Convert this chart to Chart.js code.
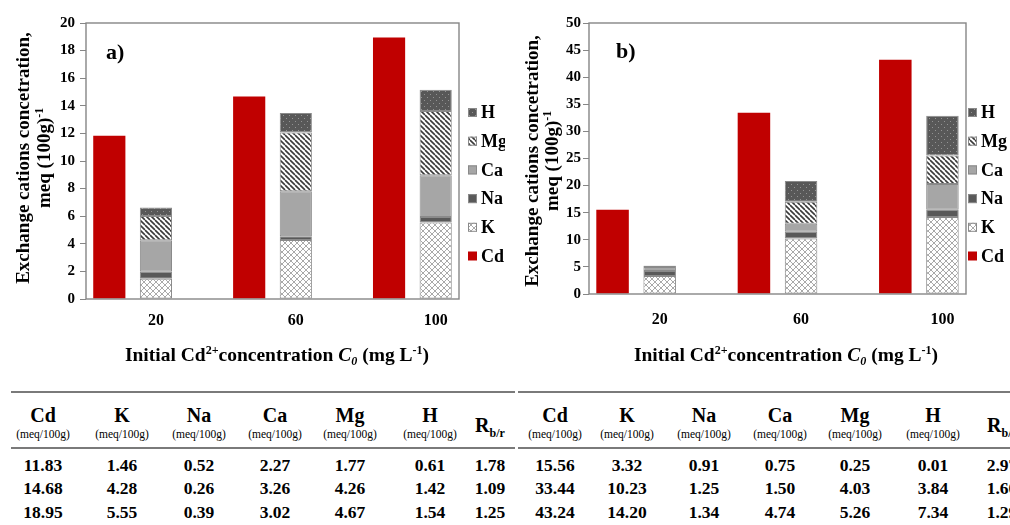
<!DOCTYPE html>
<html>
<head>
<meta charset="utf-8">
<script src="https://cdn.jsdelivr.net/npm/chart.js@4.4.1/dist/chart.umd.min.js"></script>
<style>
body { margin: 0; background: #fff; width: 1010px; height: 525px; overflow: hidden; position: relative; font-family: "Liberation Serif", "Times New Roman", serif; }
canvas { position: absolute; top: 0; }
#chartA { left: 0; }
#chartB { left: 505px; }
.line { position: absolute; height: 2px; background: #7a7a7a; }
.cell { position: absolute; text-align: center; color: #000; white-space: nowrap; }
</style>
</head>
<body>
<canvas id="chartA" width="505" height="372"></canvas>
<canvas id="chartB" width="505" height="372"></canvas>
<div id="tables"></div>
<script>
const categories = ['20', '60', '100'];

// panel a)
const cdA = [11.83, 14.68, 18.95];
const kA = [1.46, 4.28, 5.55];
const naA = [0.52, 0.26, 0.39];
const caA = [2.27, 3.26, 3.02];
const mgA = [1.77, 4.26, 4.67];
const hA = [0.61, 1.42, 1.54];
const rbrA = [1.78, 1.09, 1.25];

// panel b)
const cdB = [15.56, 33.44, 43.24];
const kB = [3.32, 10.23, 14.20];
const naB = [0.91, 1.25, 1.34];
const caB = [0.75, 1.50, 4.74];
const mgB = [0.25, 4.03, 5.26];
const hB = [0.01, 3.84, 7.34];
const rbrB = [2.97, 1.60, 1.29];

const yTicksA = { max: 20, step: 2 };
const yTicksB = { max: 50, step: 5 };

Chart.defaults.font.family = '"Liberation Serif", serif';

// 8 slots: Cd bar, stacked bar, gap, Cd bar, stacked bar, gap, Cd bar, stacked bar
const slotLabels = [];
for (let i = 0; i < categories.length; i++) {
	slotLabels.push('', categories[i]);
	if (i < categories.length - 1) slotLabels.push('');
}
function cdSlots(arr) {
	const out = new Array(slotLabels.length).fill(null);
	arr.forEach((v, i) => out[3 * i] = v);
	return out;
}
function stackSlots(arr) {
	const out = new Array(slotLabels.length).fill(null);
	arr.forEach((v, i) => out[3 * i + 1] = v);
	return out;
}

function pattern(size, draw) {
	const c = document.createElement('canvas');
	c.width = c.height = size;
	const g = c.getContext('2d');
	draw(g, size);
	return g.createPattern(c, 'repeat');
}
const kFill = pattern(6, (g, s) => {
	g.fillStyle = '#fff'; g.fillRect(0, 0, s, s);
	g.strokeStyle = '#a9a9a9'; g.lineWidth = 1;
	g.beginPath(); g.moveTo(0, 0); g.lineTo(s, s); g.moveTo(s, 0); g.lineTo(0, s); g.stroke();
});
const mgFill = pattern(5, (g, s) => {
	g.fillStyle = '#fff'; g.fillRect(0, 0, s, s);
	g.strokeStyle = '#3a3a3a'; g.lineWidth = 1.6;
	g.beginPath();
	for (const k of [-1, 0, 1]) { g.moveTo(k * s, 0); g.lineTo(k * s + s, s); }
	g.stroke();
});
const hFill = pattern(6, (g, s) => {
	g.fillStyle = '#585858'; g.fillRect(0, 0, s, s);
	g.fillStyle = '#939393';
	g.fillRect(1, 1, 1, 1); g.fillRect(4, 4, 1, 1);
});
const edge = '#8a8a8a';

function drawRich(ctx, parts, cx, cy, size) {
	const fontOf = p => (p.i ? 'italic ' : '') + 'bold ' + (p.s ? size * 0.62 : size) + 'px "Liberation Serif"';
	let w = 0;
	parts.forEach(p => { ctx.font = fontOf(p); p.w = ctx.measureText(p.t).width; w += p.w; });
	let x = cx - w / 2;
	const base = cy + size * 0.33;
	ctx.textAlign = 'left';
	ctx.textBaseline = 'alphabetic';
	ctx.fillStyle = '#000';
	parts.forEach(p => {
		ctx.font = fontOf(p);
		const dy = p.s === 'sup' ? -size * 0.38 : p.s === 'sub' ? size * 0.2 : 0;
		ctx.fillText(p.t, x, base + dy);
		x += p.w;
	});
}

const decor = {
	id: 'decor',
	afterDraw(chart, args, o) {
		const ctx = chart.ctx;
		const ca = chart.chartArea;
		ctx.save();
		ctx.strokeStyle = '#868686';
		ctx.lineWidth = 1.4;
		ctx.strokeRect(ca.left, ca.top, ca.right - ca.left, ca.bottom - ca.top);

		ctx.fillStyle = '#000';
		ctx.font = 'bold 22px "Liberation Serif"';
		ctx.textAlign = 'left';
		ctx.textBaseline = 'middle';
		ctx.fillText(o.tag, o.tagX, o.tagY);

		ctx.save();
		ctx.translate(o.yT1, o.yTy);
		ctx.rotate(-Math.PI / 2);
		drawRich(ctx, [{ t: 'Exchange cations concetration,' }], 0, 0, 19);
		ctx.restore();
		ctx.save();
		ctx.translate(o.yT2, o.yTy);
		ctx.rotate(-Math.PI / 2);
		drawRich(ctx, [{ t: 'meq (100g)' }, { t: '-1', s: 'sup' }], 0, 0, 19);
		ctx.restore();

		drawRich(ctx, [
			{ t: 'Initial Cd' }, { t: '2+', s: 'sup' }, { t: 'concentration ' },
			{ t: 'C', i: 1 }, { t: '0', i: 1, s: 'sub' }, { t: ' (mg L' }, { t: '-1', s: 'sup' }, { t: ')' }
		], o.xTx, o.xTy, 19.5);

		// legend, top item is the last dataset
		const ds = chart.data.datasets.slice().reverse();
		ds.forEach((d, i) => {
			const y = o.legY + i * o.legDy;
			ctx.fillStyle = d.backgroundColor;
			ctx.fillRect(o.legX, y - 4.5, 9, 9);
			if (d.borderWidth) {
				ctx.strokeStyle = edge; ctx.lineWidth = 1;
				ctx.strokeRect(o.legX + 0.5, y - 4, 8, 8);
			}
			ctx.fillStyle = '#000';
			ctx.font = 'bold 18px "Liberation Serif"';
			ctx.textAlign = 'left';
			ctx.textBaseline = 'middle';
			ctx.fillText(d.label, o.legX + 13, y + 1);
		});
		ctx.restore();
	}
};

function makeChart(id, set, ticks, geo) {
	const stackDs = (label, arr, fill) => ({
		label: label, data: stackSlots(arr), backgroundColor: fill, borderColor: edge, borderWidth: 1
	});
	return new Chart(document.getElementById(id), {
		type: 'bar',
		data: {
			labels: slotLabels,
			datasets: [
				{ label: 'Cd', data: cdSlots(set.cd), backgroundColor: '#c00000', borderWidth: 0 },
				stackDs('K', set.k, kFill),
				stackDs('Na', set.na, '#595959'),
				stackDs('Ca', set.ca, '#a6a6a6'),
				stackDs('Mg', set.mg, mgFill),
				stackDs('H', set.h, hFill)
			]
		},
		options: {
			responsive: false,
			animation: false,
			layout: { padding: { left: 0, top: 23, right: geo.right, bottom: 0 } },
			datasets: { bar: { barPercentage: 0.69, categoryPercentage: 1, borderSkipped: false } },
			scales: {
				x: {
					stacked: true,
					grid: { display: false, drawTicks: false },
					border: { display: false },
					ticks: { padding: geo.xPad, autoSkip: false, maxRotation: 0, color: '#000', font: { size: 16, weight: 'bold' } },
					afterFit: a => { a.height = geo.xH; }
				},
				y: {
					stacked: true,
					min: 0,
					max: ticks.max,
					ticks: { stepSize: ticks.step, padding: geo.yPad, color: '#000', font: { size: 15, weight: 'bold' } },
					grid: { drawOnChartArea: false, tickLength: 6, color: '#868686' },
					border: { display: false },
					afterFit: a => { a.width = geo.yW; }
				}
			},
			plugins: {
				legend: { display: false },
				tooltip: { enabled: false },
				decor: geo.decor
			}
		},
		plugins: [decor]
	});
}

makeChart('chartA', { cd: cdA, k: kA, na: naA, ca: caA, mg: mgA, h: hA }, yTicksA, {
	right: 46, xH: 73, xPad: 12, yW: 86, yPad: 5,
	decor: { tag: 'a)', tagX: 106, tagY: 53, yT1: 23, yT2: 44, yTy: 158, xTx: 277, xTy: 355, legX: 468, legY: 112.5, legDy: 28.7 }
});
makeChart('chartB', { cd: cdB, k: kB, na: naB, ca: caB, mg: mgB, h: hB }, yTicksB, {
	right: 44, xH: 78, xPad: 16, yW: 84, yPad: 2,
	decor: { tag: 'b)', tagX: 111, tagY: 52, yT1: 26.5, yT2: 47, yTy: 161, xTx: 281, xTy: 355, legX: 463, legY: 112.5, legDy: 28.7 }
});

// tables under the charts
const colNames = ['Cd', 'K', 'Na', 'Ca', 'Mg', 'H'];
const rowY = [465, 488, 512];
const holder = document.getElementById('tables');
function cell(html, cx, cy, size, weight) {
	const d = document.createElement('div');
	d.className = 'cell';
	d.style.left = (cx - 50) + 'px';
	d.style.width = '100px';
	d.style.top = (cy - size) + 'px';
	d.style.height = (2 * size) + 'px';
	d.style.lineHeight = (2 * size) + 'px';
	d.style.fontSize = size + 'px';
	d.style.fontWeight = weight;
	d.innerHTML = html;
	holder.appendChild(d);
}
function line(x0, x1, y) {
	const d = document.createElement('div');
	d.className = 'line';
	d.style.left = x0 + 'px';
	d.style.width = (x1 - x0) + 'px';
	d.style.top = y + 'px';
	holder.appendChild(d);
}
function buildTable(x0, x1, centers, cols) {
	line(x0, x1, 391);
	line(x0, x1, 447);
	colNames.forEach((n, j) => {
		cell(n, centers[j], 415, 20, 'bold');
		cell('(meq/100g)', centers[j], 434, 11.5, 'normal');
	});
	cell('R<sub style="font-size:12px">b/r</sub>', centers[6], 425, 20, 'bold');
	cols.forEach((col, j) => {
		col.forEach((v, r) => cell(v.toFixed(2), centers[j], rowY[r], 17.5, 'bold'));
	});
}
buildTable(11, 515, [43, 122, 199, 275, 350, 430, 490], [cdA, kA, naA, caA, mgA, hA, rbrA]);
buildTable(518, 1010, [555, 627, 704, 780, 855, 933, 1002], [cdB, kB, naB, caB, mgB, hB, rbrB]);
</script>
</body>
</html>
